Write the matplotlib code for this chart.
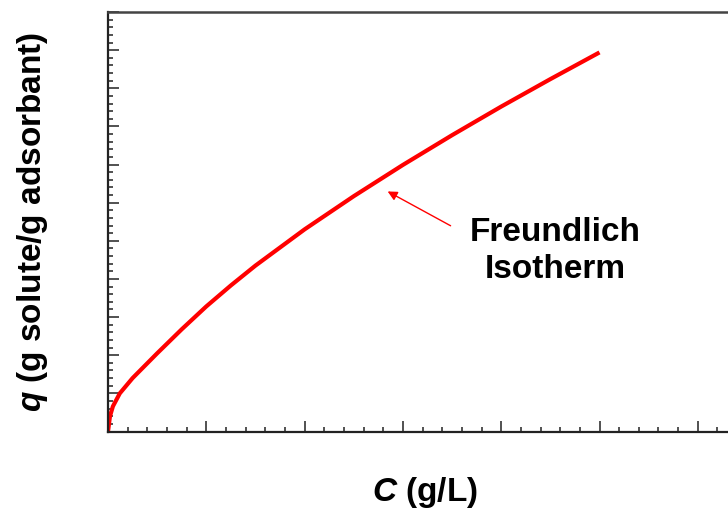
import matplotlib.pyplot as plt
from matplotlib.ticker import MultipleLocator

plt.rcParams['font.family'] = 'Liberation Sans'
plt.rcParams['mathtext.fontset'] = 'custom'
plt.rcParams['mathtext.it'] = 'Liberation Sans:bold:italic'
plt.rcParams['mathtext.rm'] = 'Liberation Sans:bold'

# Freundlich isotherm
conc = [0, 0.02, 0.05, 0.12, 0.25, 0.5, 0.75, 1.0, 1.25, 1.5, 2.0, 2.5, 3.0, 3.5, 4.0, 4.5, 5.0]
q_ads = [0, 0.4, 0.66, 1.0, 1.4, 2.05, 2.68, 3.28, 3.83, 4.35, 5.3, 6.17, 6.99, 7.77, 8.52, 9.24, 9.94]

label_text = 'Freundlich\nIsotherm'
arrow_tip = (2.82, 6.33)
arrow_tail = (3.51, 5.36)

fig = plt.figure(figsize=(7.28, 5.12), dpi=100)
# axes run past the right edge of the figure, like the cropped original
ax = fig.add_axes([108 / 728, 80.5 / 512, 7 * 98.3 / 728, 419.5 / 512])

ax.plot(conc, q_ads, color='#ff0000', lw=3, solid_capstyle='butt', solid_joinstyle='round')

ax.set_xlim(0, 7)
ax.set_ylim(0, 11)
ax.xaxis.set_major_locator(MultipleLocator(1))
ax.xaxis.set_minor_locator(MultipleLocator(0.2))
ax.yaxis.set_major_locator(MultipleLocator(1))
ax.yaxis.set_minor_locator(MultipleLocator(0.2))
ax.tick_params(which='both', direction='in', labelbottom=False, labelleft=False,
               color='#222222', width=1.1)
ax.tick_params(which='major', length=8)
ax.tick_params(which='minor', length=3.8)
for side in ['left', 'bottom']:
    ax.spines[side].set_linewidth(1.6)
    ax.spines[side].set_color('#222222')
ax.spines['top'].set_linewidth(1.8)
ax.spines['top'].set_color('#444444')
ax.spines['right'].set_visible(False)

ax.annotate('', xy=arrow_tip, xytext=arrow_tail,
            arrowprops=dict(arrowstyle='-|>', color='#ff0000', lw=1, mutation_scale=14))
ax.text(4.55, 4.73, label_text, ha='center', va='center', fontsize=24,
        fontweight='bold', linespacing=1.25)

fig.text(425 / 728, 1 - 493 / 512, r'$C$ (g/L)', ha='center', va='center',
         fontsize=24, fontweight='bold')
fig.text(33 / 728, 1 - 221.5 / 512, r'$q$ (g solute/g adsorbant)', ha='center',
         va='center', rotation=90, fontsize=24, fontweight='bold')

fig.savefig('out.png', dpi=100)
